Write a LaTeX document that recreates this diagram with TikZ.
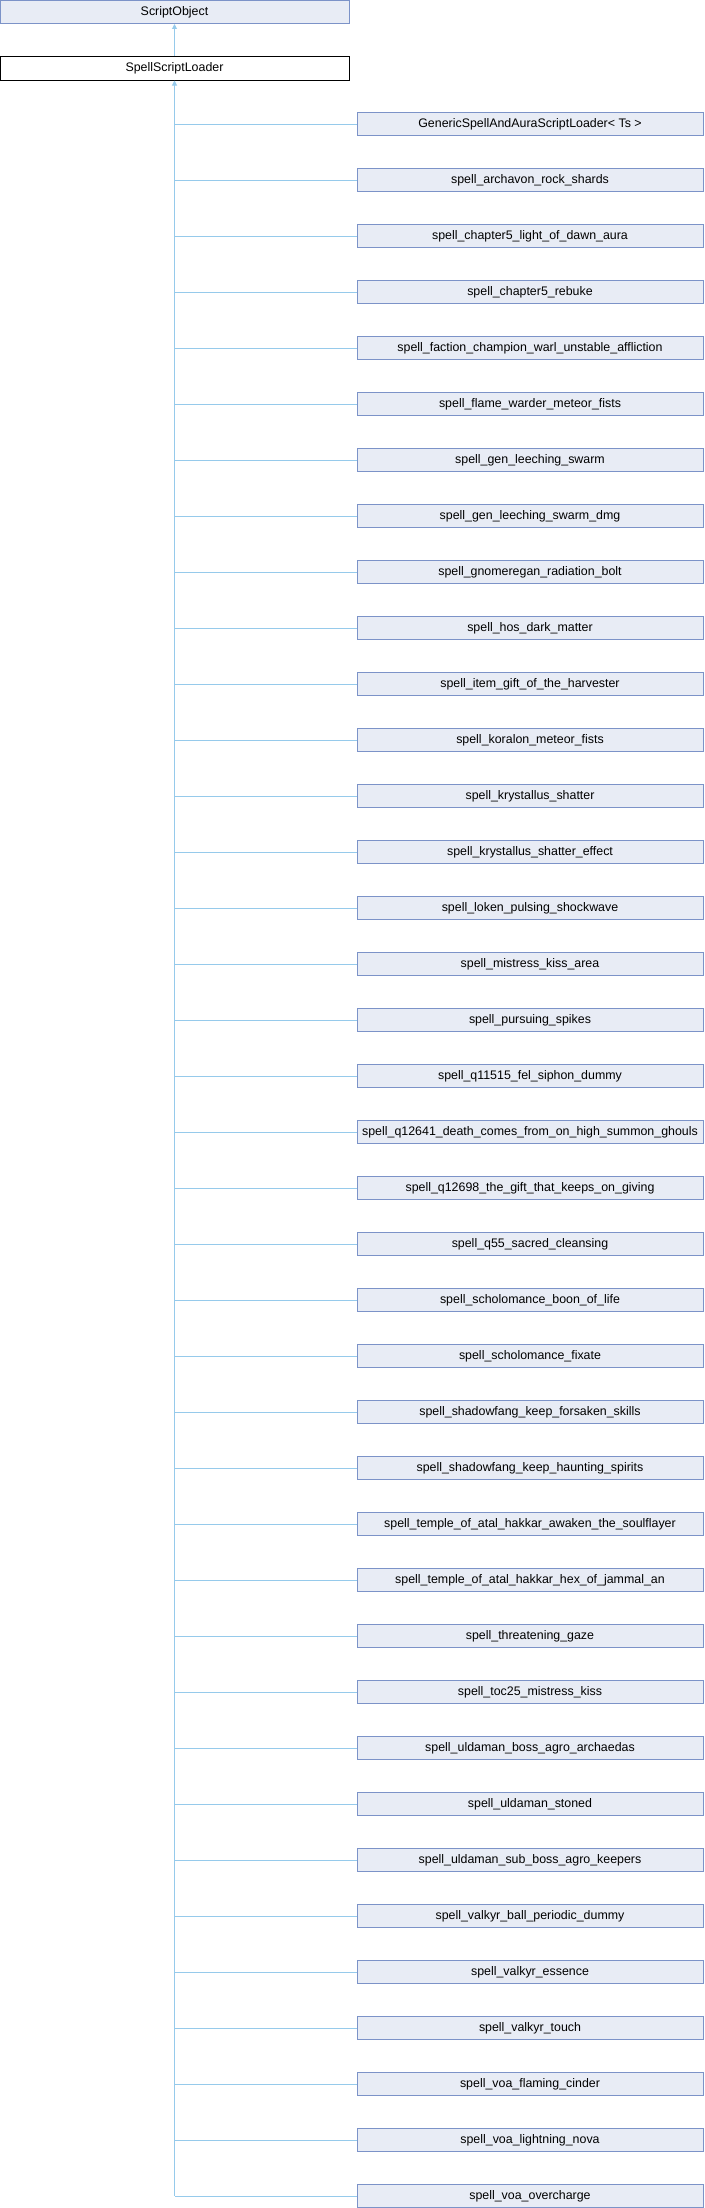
\documentclass[tikz,border=0pt]{standalone}
\usepackage{fontspec}
\setmainfont{Liberation Sans}
\usetikzlibrary{arrows.meta}
\definecolor{boxfill}{HTML}{E8ECF5}
\definecolor{boxdraw}{HTML}{7C93C8}
\definecolor{linkc}{HTML}{96CAEB}
\begin{document}
\begin{tikzpicture}[x=1pt,y=-1pt,
  font=\fontsize{12.4}{14}\selectfont,
  cls/.style={draw=boxdraw, fill=boxfill, line width=1pt, minimum height=23pt, inner sep=0pt, text height=9pt, text depth=2.5pt},
  cur/.style={draw=black, fill=white, line width=1pt, minimum height=23pt, inner sep=0pt, text height=9pt, text depth=2.5pt},
  link/.style={draw=linkc, line width=1pt},
  inh/.style={link, {Triangle[width=5pt,length=5pt]}-}]
\useasboundingbox (0,0) rectangle (704,2208);
\node[cls, minimum width=349pt] (so) at (174.5,12) {ScriptObject};
\node[cur, minimum width=349pt] (ssl) at (174.5,68.5) {SpellScriptLoader};
\draw[inh] (so.south) -- (ssl.north);
\foreach \nm [count=\i] in {
GenericSpellAndAuraScriptLoader< Ts >,
spell\_archavon\_rock\_shards,
spell\_chapter5\_light\_of\_dawn\_aura,
spell\_chapter5\_rebuke,
spell\_faction\_champion\_warl\_unstable\_affliction,
spell\_flame\_warder\_meteor\_fists,
spell\_gen\_leeching\_swarm,
spell\_gen\_leeching\_swarm\_dmg,
spell\_gnomeregan\_radiation\_bolt,
spell\_hos\_dark\_matter,
spell\_item\_gift\_of\_the\_harvester,
spell\_koralon\_meteor\_fists,
spell\_krystallus\_shatter,
spell\_krystallus\_shatter\_effect,
spell\_loken\_pulsing\_shockwave,
spell\_mistress\_kiss\_area,
spell\_pursuing\_spikes,
spell\_q11515\_fel\_siphon\_dummy,
spell\_q12641\_death\_comes\_from\_on\_high\_summon\_ghouls,
spell\_q12698\_the\_gift\_that\_keeps\_on\_giving,
spell\_q55\_sacred\_cleansing,
spell\_scholomance\_boon\_of\_life,
spell\_scholomance\_fixate,
spell\_shadowfang\_keep\_forsaken\_skills,
spell\_shadowfang\_keep\_haunting\_spirits,
spell\_temple\_of\_atal\_hakkar\_awaken\_the\_soulflayer,
spell\_temple\_of\_atal\_hakkar\_hex\_of\_jammal\_an,
spell\_threatening\_gaze,
spell\_toc25\_mistress\_kiss,
spell\_uldaman\_boss\_agro\_archaedas,
spell\_uldaman\_stoned,
spell\_uldaman\_sub\_boss\_agro\_keepers,
spell\_valkyr\_ball\_periodic\_dummy,
spell\_valkyr\_essence,
spell\_valkyr\_touch,
spell\_voa\_flaming\_cinder,
spell\_voa\_lightning\_nova,
spell\_voa\_overcharge}{
  \node[cls, minimum width=346pt] (c\i) at (530,{124+56*(\i-1)}) {\nm};
  \draw[link] (c\i.west) -- (c\i.west -| ssl.south);
}
\coordinate (busend) at (c38.west -| ssl.south);
\draw[inh] (ssl.south) -- (busend);
\end{tikzpicture}
\end{document}
